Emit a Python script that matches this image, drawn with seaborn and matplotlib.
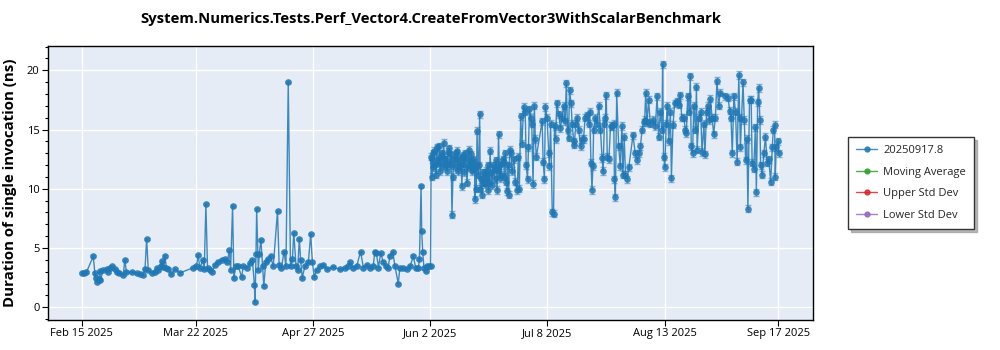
import datetime as dt
import numpy as np
import pandas as pd
import matplotlib
matplotlib.use("Agg")
import matplotlib.pyplot as plt
from matplotlib.ticker import MultipleLocator
import seaborn as sns

# ---------------- data ----------------
start_date = dt.datetime(2025, 2, 15)
series_label = "20250917.8"

# days after start_date (phase before Jun 2)
days_a = [0.0, 0.7, 1.4, 3.5, 4.0, 4.3, 4.7, 5.3, 5.5, 5.7, 6.6, 7.6, 8.1, 8.6, 9.4, 10.1, 10.9, 11.5,
          12.7, 13.2, 13.7, 15.3, 16.8, 17.8, 18.8, 19.4, 19.9, 20.4, 21.4, 22.4, 23.0, 23.5, 24.2, 24.5,
          25.0, 25.5, 26.0, 26.5, 27.5, 28.6, 30.1, 34.2, 35.2, 35.7, 36.3, 37.1, 37.6, 38.1, 38.6, 39.3,
          40.0, 40.9, 41.9, 42.9, 44.0, 44.7, 45.3, 45.7, 46.3, 46.7, 47.3, 48.0, 49.1, 49.6, 50.6, 51.6,
          52.4, 53.0, 53.2, 53.5, 53.7, 54.2, 54.5, 55.0, 55.5, 55.9, 56.5, 57.3, 58.0, 58.8, 60.1, 60.6,
          61.3, 62.1, 62.7, 63.4, 64.1, 64.7, 65.1, 65.8, 66.3, 66.8, 67.2, 67.7, 68.5, 69.6, 70.3, 70.8,
          71.4, 72.1, 73.1, 74.2, 75.4, 77.0, 79.3, 80.8, 81.8, 82.4, 83.4, 84.4, 85.6, 86.5, 87.5, 88.5,
          89.5, 90.0, 90.5, 91.1, 91.8, 92.6, 93.4, 94.1, 94.6, 95.5, 96.2, 97.2, 97.7, 98.7, 99.8, 100.8,
          101.8, 102.6, 103.4, 103.7, 104.2, 104.4, 104.7, 105.1, 105.7, 106.1, 106.7, 107.1]
values_a = [2.9, 2.9, 2.95, 4.3, 2.9, 2.45, 2.15, 2.4, 3.1, 2.3, 3.15, 3.2, 3.0, 3.3, 3.45, 3.2, 2.95, 2.9,
            2.7, 4.0, 2.95, 2.95, 2.9, 2.8, 2.75, 3.2, 5.8, 3.15, 2.9, 2.95, 3.3, 3.15, 3.5, 3.9,
            3.4, 4.3, 3.3, 3.2, 2.8, 3.2, 2.9, 3.35, 3.45, 4.4, 3.3, 4.0, 3.2, 8.7, 3.35, 3.15,
            3.0, 3.6, 3.85, 4.0, 4.1, 3.85, 4.8, 3.15, 8.55, 2.45, 3.45, 3.5, 2.55, 3.5, 3.3, 3.7,
            4.0, 1.9, 0.48, 4.5, 8.3, 3.15, 4.5, 5.7, 3.45, 1.8, 3.85, 4.1, 4.3, 3.45, 8.1, 3.6,
            3.3, 4.7, 3.45, 19.0, 3.45, 4.1, 6.3, 3.45, 3.15, 5.8, 4.0, 2.5, 3.45, 3.85, 6.2, 3.85,
            2.55, 3.15, 3.45, 3.6, 3.2, 3.4, 3.2, 3.3, 3.45, 3.8, 3.35, 3.45, 4.7, 3.35, 3.6, 3.3,
            3.45, 4.7, 4.55, 3.35, 4.6, 3.8, 3.45, 3.35, 4.3, 4.7, 3.45, 2.0, 3.35, 3.3, 3.25, 3.45,
            4.3, 3.3, 3.35, 4.1, 10.2, 6.4, 4.7, 3.3, 3.1, 3.45, 3.5, 3.45]

# days after start_date (phase from Jun 2)
days_b = [107.3, 107.5, 107.6, 108.0, 108.5, 109.0, 109.6, 110.1, 110.6, 111.1, 111.6, 112.2, 112.7,
          113.2, 113.7, 114.0, 114.1, 115.2, 115.7, 116.2, 116.7, 117.2, 117.7, 118.3, 118.8, 119.3,
          119.8, 120.3, 120.8, 121.2, 121.4, 121.9, 122.2, 122.4, 122.9, 123.4, 124.0, 124.4, 124.9,
          125.4, 125.9, 127.0, 127.5, 128.0, 128.5, 129.0, 129.6, 130.1, 130.6, 131.1, 131.4, 131.8,
          132.1, 132.7, 133.2, 133.7, 134.1, 134.4, 134.8, 135.2, 135.7, 136.2, 136.5, 136.9, 137.2,
          137.5, 137.9, 138.2, 138.6, 139.0, 139.3, 139.6, 141.4, 141.7, 142.1, 142.4, 142.9, 143.4,
          143.6, 144.0, 144.5, 144.9, 145.2, 145.5, 145.9, 146.5, 147.0, 147.5, 148.0, 148.5, 148.8,
          149.2, 149.5, 149.8, 150.3, 150.6, 151.1, 151.3, 151.7, 152.1, 152.6, 153.2, 153.6, 154.1,
          154.6, 155.1, 155.7, 156.0, 156.4, 156.7, 157.0, 157.2, 157.7, 158.2, 158.8, 159.3, 159.8,
          160.1, 160.5, 160.8, 161.1, 161.4, 161.9, 162.4, 162.9, 163.4, 163.6, 163.9, 164.3, 164.9,
          165.4, 165.9, 166.2, 166.6, 167.0, 167.5, 168.0, 169.3, 170.0, 170.6, 171.1, 171.6, 172.1,
          172.6, 172.9, 173.2, 173.6, 174.1, 174.6, 175.6, 176.2, 176.7, 177.2, 177.7, 178.2, 178.4,
          178.7, 179.1, 179.5, 179.8, 180.3, 180.8, 181.1, 181.6, 182.1, 182.7, 183.3, 183.8, 184.3,
          184.9, 185.4, 185.7, 186.1, 186.6, 186.9, 187.2, 187.6, 188.0, 188.5, 188.8, 189.0, 189.5,
          190.1, 190.5, 191.1, 191.4, 191.9, 192.3, 192.8, 193.1, 193.6, 194.1, 194.6, 195.1, 195.6,
          196.1, 197.7, 198.5, 199.0, 199.4, 199.8, 200.3, 200.8, 201.3, 201.8, 202.1, 202.3, 203.1,
          203.5, 203.9, 204.3, 204.6, 205.1, 205.6, 205.9, 206.4, 206.9, 207.2, 207.6, 207.9, 208.3,
          208.5, 209.0, 209.5, 210.0, 210.5, 211.0, 211.6, 212.1, 212.4, 212.8, 213.0, 213.3, 213.8,
          214.1]
values_b = [12.7, 11.0, 12.5, 13.0, 12.0, 13.5, 12.2, 11.5, 13.0, 13.9, 12.5, 11.5, 13.4,
            12.0, 7.8, 11.0, 12.5, 13.2, 11.5, 12.0, 10.2, 12.8, 13.0, 10.5, 13.3, 12.0,
            11.5, 12.5, 9.1, 10.0, 14.9, 12.0, 16.3, 10.0, 9.5, 10.5, 11.5, 10.5, 9.9,
            13.2, 10.3, 11.7, 9.9, 14.6, 12.0, 12.2, 12.3, 13.0, 9.8, 9.5, 13.3, 13.0,
            11.5, 12.5, 10.6, 9.9, 12.7, 10.0, 16.1, 13.8, 16.9, 16.5, 12.0, 10.8, 13.5,
            16.7, 16.0, 15.5, 10.4, 17.0, 14.2, 12.7, 15.7, 12.3, 10.8, 16.9, 16.0, 13.0,
            11.9, 15.5, 8.0, 7.9, 15.3, 14.2, 17.2, 16.3, 15.1, 16.0, 17.0, 15.7, 18.9,
            15.0, 14.3, 18.3, 17.2, 15.5, 14.0, 13.7, 15.5, 16.0, 15.0, 13.6, 14.2, 14.2,
            16.0, 16.2, 15.5, 16.5, 12.2, 9.9, 11.9, 15.0, 16.0, 15.5, 17.0, 15.0, 12.6,
            11.5, 15.5, 16.0, 17.9, 12.7, 12.5, 15.3, 15.3, 15.5, 10.8, 9.3, 18.1, 13.6,
            11.9, 15.3, 11.2, 14.4, 11.2, 10.8, 11.8, 14.5, 13.0, 12.4, 13.0, 13.6, 15.0,
            15.6, 15.8, 18.1, 15.6, 17.5, 15.5, 15.8, 15.3, 17.8, 14.4, 16.5, 15.0, 20.5,
            12.7, 11.8, 15.5, 17.0, 14.0, 16.5, 10.9, 15.4, 17.2, 17.4, 17.1, 17.9, 16.0,
            16.0, 15.0, 14.7, 17.8, 16.5, 19.5, 13.6, 13.0, 17.0, 15.0, 18.6, 13.3, 16.0,
            16.5, 13.1, 15.5, 12.9, 16.5, 17.0, 15.8, 17.6, 16.0, 14.6, 16.0, 19.1, 17.0,
            18.1, 17.8, 17.7, 16.6, 16.0, 13.0, 17.8, 16.5, 12.3, 19.6, 16.0, 13.5, 19.0,
            15.8, 12.4, 14.2, 8.3, 17.5, 17.5, 12.2, 11.7, 15.2, 9.7, 17.3, 18.5, 15.8,
            12.0, 11.2, 13.0, 14.4, 12.2, 12.5, 10.6, 13.5, 15.0, 15.4, 11.0, 13.5, 14.0,
            13.0]

# additional runs in the dense June band
days_c = [107.8, 108.2, 108.8, 109.3, 109.8, 110.3, 110.9, 111.4, 111.9, 112.4,
          112.9, 113.4, 114.5, 114.8, 115.0, 115.5, 116.0, 116.5, 117.0, 117.5,
          118.0, 118.6, 119.1, 119.6, 120.1, 120.6, 121.0, 121.7, 122.6, 123.2,
          123.7, 124.2, 124.7, 125.2, 125.7, 126.3, 126.8, 127.3, 127.8, 128.3,
          128.8, 129.3, 129.8, 130.3, 130.8]
values_c = [11.8, 13.2, 11.2, 12.4, 13.6, 12.8, 11.9, 12.6, 12.0, 13.1,
            12.2, 12.9, 11.8, 12.6, 13.0, 12.3, 11.8, 12.7, 12.1, 11.4,
            12.6, 11.8, 12.3, 12.9, 11.7, 12.2, 11.9, 11.2, 10.8, 11.4,
            10.4, 11.0, 12.0, 10.6, 11.3, 12.0, 10.8, 12.4, 11.6, 10.9,
            11.2, 12.5, 11.0, 10.6, 12.0]

# half-width of the error bars per phase (ns)
err_a = 0.08
err_b = 0.3

tick_labels = ["Feb 15 2025", "Mar 22 2025", "Apr 27 2025", "Jun 2 2025",
               "Jul 8 2025", "Aug 13 2025", "Sep 17 2025"]
legend_labels = [series_label, "Moving Average", "Upper Std Dev", "Lower Std Dev"]
title = "System.Numerics.Tests.Perf_Vector4.CreateFromVector3WithScalarBenchmark"
ylabel = "Duration of single invocation (ns)"

# ---------------- build frame ----------------
days = days_a + days_b + days_c
vals = values_a + values_b + values_c
errs = [err_a] * len(days_a) + [err_b] * (len(days_b) + len(days_c))
df = pd.DataFrame({
    "date": [start_date + dt.timedelta(days=d) for d in days],
    "value": vals,
    "err": errs,
}).sort_values("date").reset_index(drop=True)

# ---------------- style ----------------
sns.set_theme(style="darkgrid")
plt.rcParams["font.family"] = ["Open Sans", "DejaVu Sans"]

BLUE = "#1f77b4"
fig = plt.figure(figsize=(10, 3.5), dpi=100)
ax = fig.add_axes([0.048, 0.0857, 0.765, 0.783])
ax.set_facecolor("#E5ECF6")

ax.errorbar(df["date"], df["value"], yerr=df["err"], fmt="none",
            ecolor=BLUE, elinewidth=1.0, capsize=2.2, capthick=1.0, alpha=0.5, zorder=2)
sns.lineplot(data=df, x="date", y="value", ax=ax, sort=True, color=BLUE,
             linewidth=1.0, alpha=0.85, marker="o", markersize=4.8,
             markeredgewidth=0, errorbar=None, zorder=3, legend=False)

# legend entries for the (empty) statistic series
handle_colors = [BLUE, "#2ca02c", "#d62728", "#9467bd"]
handles = []
for lab, col in zip(legend_labels, handle_colors):
    h, = ax.plot([], [], color=col, marker="o", markersize=3.5, linewidth=1.0, label=lab, alpha=0.85)
    handles.append(h)

# axes ranges and ticks
ax.set_xlim(start_date - dt.timedelta(days=10.4), start_date + dt.timedelta(days=224.6))
ax.set_ylim(-1.07, 22.05)
tick_dates = [dt.datetime.strptime(t, "%b %d %Y") for t in tick_labels]
ax.set_xticks(tick_dates)
ax.set_xticklabels(tick_labels)
ax.yaxis.set_major_locator(MultipleLocator(5))
ax.yaxis.set_minor_locator(MultipleLocator(1))
ax.grid(False)
ax.grid(True, which="major", color="white", linewidth=1.0)
ax.set_axisbelow(True)
ax.tick_params(axis="both", which="major", direction="out", length=4, width=0.8,
               color="black", labelsize=8, labelcolor="black", left=True, bottom=True, pad=2)
ax.tick_params(axis="y", which="minor", direction="out", length=2.5, width=0.8,
               color="black", left=True)
for s in ax.spines.values():
    s.set_visible(True)
    s.set_color("black")
    s.set_linewidth(1.0)

ax.set_xlabel("")
ax.set_ylabel(ylabel, fontsize=10.8, fontweight="bold", color="black", labelpad=7)
fig.text(0.4305, 0.945, title, ha="center", va="center", fontsize=10.7,
         fontweight="bold", color="black")

leg = fig.legend(handles=handles, labels=legend_labels, loc="upper left",
                 bbox_to_anchor=(0.848, 0.609), borderaxespad=0.0, frameon=True,
                 fancybox=False, shadow={"color": "0.55", "alpha": 0.6}, fontsize=8,
                 handlelength=1.9, borderpad=0.75, labelspacing=0.95, handletextpad=0.5)
leg.get_frame().set_edgecolor("#333333")
leg.get_frame().set_facecolor("white")
leg.get_frame().set_linewidth(1.0)

fig.savefig("out.png", dpi=100, facecolor="white")
